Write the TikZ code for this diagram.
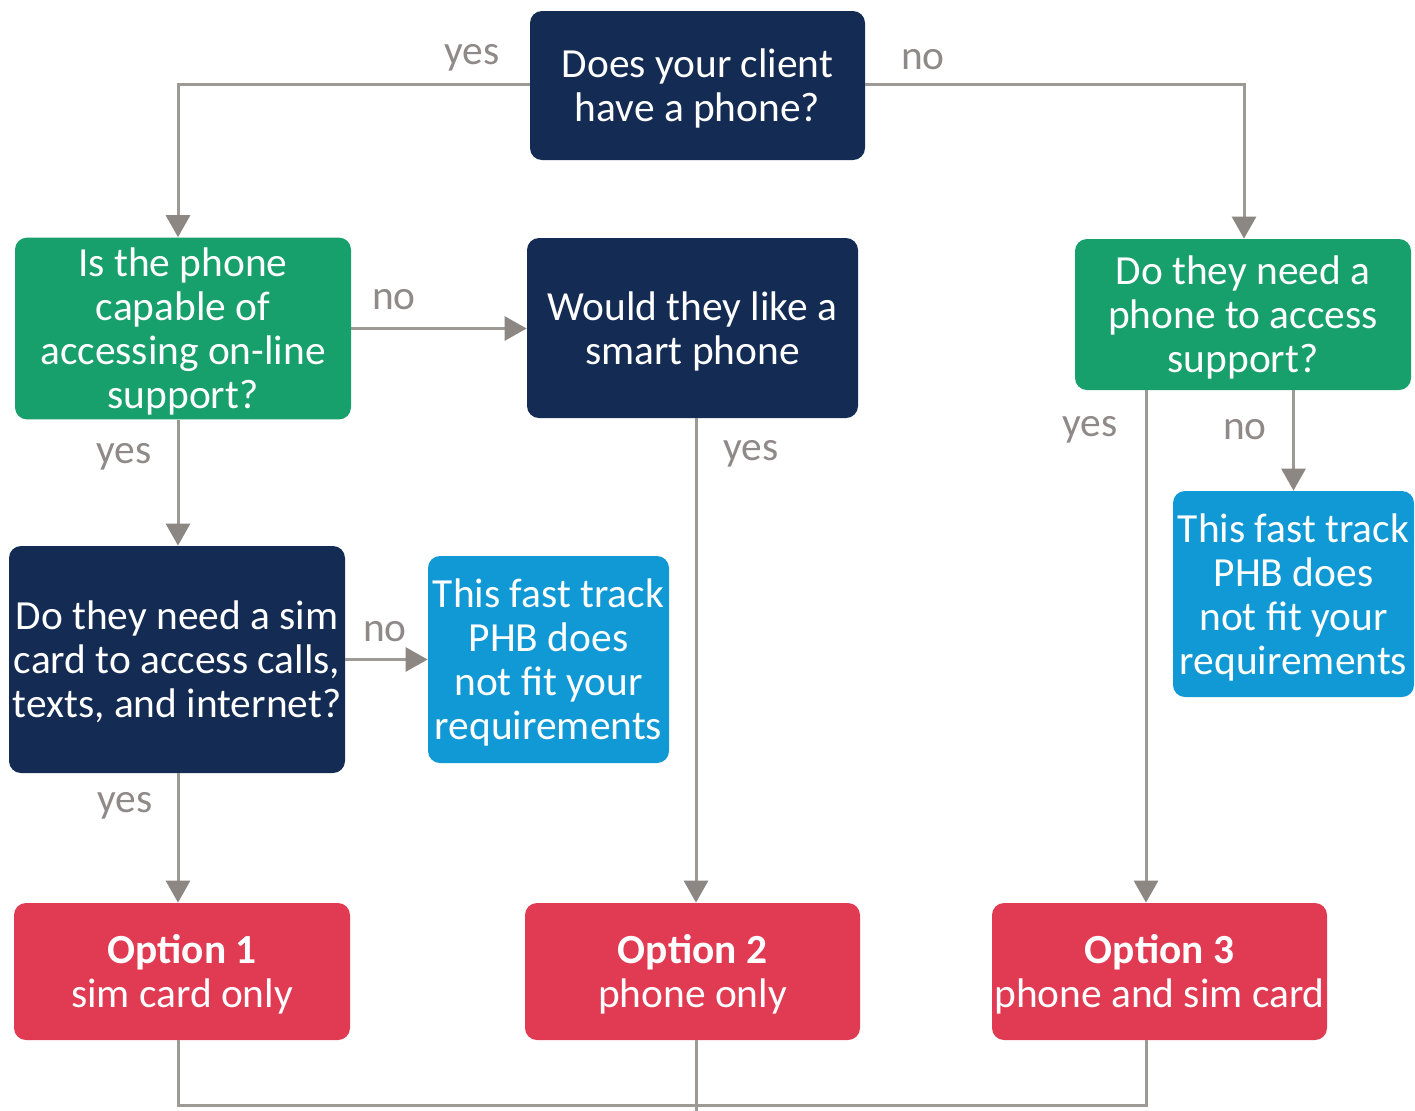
\documentclass[tikz,border=0pt]{standalone}
\usepackage{fontspec}
\usetikzlibrary{arrows.meta}
\newfontfamily\boxfont{Carlito}
\newcommand\Tl{\rule{0pt}{19.5pt}}
\newcommand\Bl{\rule[-5.4pt]{0pt}{5.4pt}}
\definecolor{navy}{HTML}{142B54}
\definecolor{grn}{HTML}{17A06B}
\definecolor{sky}{HTML}{1199D5}
\definecolor{rred}{HTML}{E13B54}
\definecolor{lgray}{HTML}{9D9995}
\definecolor{agray}{HTML}{8C8782}
\definecolor{tgray}{HTML}{8F8A87}
\tikzset{
  box/.style={rounded corners=6pt, text=white, align=center, inner sep=0pt,
    font=\boxfont\fontsize{20.7}{22}\selectfont},
  navybox/.style={box, fill=navy},
  greenbox/.style={box, fill=grn},
  bluebox/.style={box, fill=sky},
  redbox/.style={box, fill=rred},
  conn/.style={draw=lgray, line width=1.5pt},
  arr/.style={conn, -{Triangle[width=12pt,length=11pt,fill=agray,color=agray]}},
  lbl/.style={text=tgray, font=\boxfont\fontsize{20.7}{22}\selectfont, inner sep=0pt}
}
\begin{document}
\begin{tikzpicture}[x=0.5pt,y=-0.5pt]
\useasboundingbox (0,0) rectangle (1415,1110);
\fill[white] (0,0) rectangle (1415,1110);

\node[navybox, minimum width=167.5pt, minimum height=74.5pt] (q1) at (697.5,85.5) {\Tl Does your client\\have a phone?\Bl};
\node[greenbox, minimum width=168pt, minimum height=89.5pt] (q2) at (183,328.5) {\Tl Is the phone\\capable of\\accessing on-line\\support?\Bl};
\node[navybox, minimum width=165.5pt, minimum height=90pt] (q3) at (692.5,328) {\Tl Would they like a\\smart phone\Bl};
\node[greenbox, minimum width=168pt, minimum height=75.5pt] (q4) at (1243,314.5) {\Tl Do they need a\\phone to access\\support?\Bl};
\node[navybox, minimum width=168pt, minimum height=113.5pt] (q5) at (177,659.5) {\Tl Do they need a sim\\card to access calls,\\texts, and internet?\Bl};
\node[bluebox, minimum width=120.5pt, minimum height=103.5pt] (b1) at (548.5,659.5) {\Tl This fast track\\PHB does\\not fit your\\requirements\Bl};
\node[bluebox, minimum width=120.5pt, minimum height=103pt] (b2) at (1293.5,594) {\Tl This fast track\\PHB does\\not fit your\\requirements\Bl};
\node[redbox, minimum width=168pt, minimum height=68.5pt] (o1) at (182,971.5) {\Tl\textbf{Option 1}\\sim card only\Bl};
\node[redbox, minimum width=167.5pt, minimum height=68.5pt] (o2) at (692.5,971.5) {\Tl\textbf{Option 2}\\phone only\Bl};
\node[redbox, minimum width=167.5pt, minimum height=68.5pt] (o3) at (1159.5,971.5) {\Tl\textbf{Option 3}\\phone and sim card\Bl};

\coordinate (c1) at (178,84);
\coordinate (c2) at (1244,84);
\coordinate (c3) at (1146,0);
\coordinate (bl) at (178,1105);
\coordinate (br) at (1146,1105);
\coordinate (bm) at (696,1115);

% connectors
\draw[arr] (q1.west |- c1) -- (c1) -- (c1 |- q2.north);
\draw[arr] (q1.east |- c2) -- (c2) -- (c2 |- q4.north);
\draw[arr] (q2.east) -- (q2.east -| q3.west);
\draw[arr] (q2.south -| c1) -- (c1 |- q5.north);
\draw[arr] (q3.south -| bm) -- (bm |- o2.north);
\draw[arr] (q5.east) -- (q5.east -| b1.west);
\draw[arr] (q5.south -| c1) -- (c1 |- o1.north);
\draw[arr] (q4.south -| c3) -- (c3 |- o3.north);
\draw[arr] (q4.south -| b2.north) -- (b2.north);
\draw[conn] (o1.south -| bl) -- (bl) -- (br) -- (o3.south -| br);
\draw[conn] (o2.south -| bm) -- (bm);

% labels
\node[lbl] (l1) at (472,58) {yes};
\node[lbl] (l2) at (923,60) {no};
\node[lbl] (l3) at (394,300) {no};
\node[lbl] (l4) at (124,457) {yes};
\node[lbl] (l5) at (751,454) {yes};
\node[lbl] (l6) at (385,632) {no};
\node[lbl] (l7) at (125,806) {yes};
\node[lbl] (l8) at (1090,430) {yes};
\node[lbl] (l9) at (1245,430) {no};
\end{tikzpicture}
\end{document}
